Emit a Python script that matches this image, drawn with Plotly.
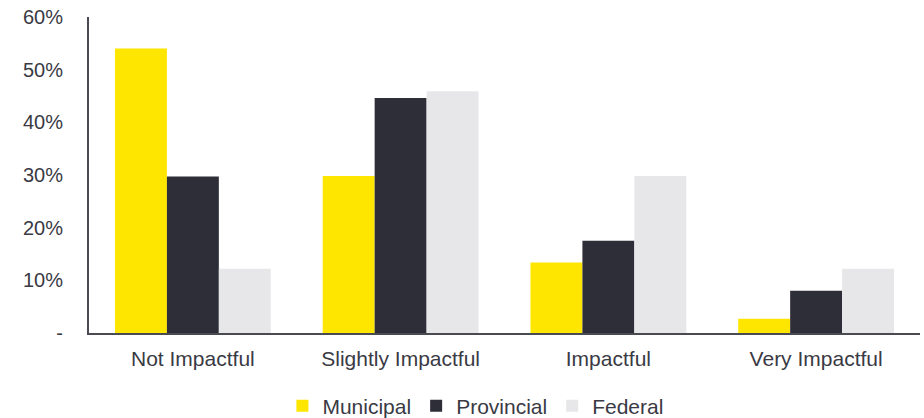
import plotly.graph_objects as go

categories = ["Not Impactful", "Slightly Impactful", "Impactful", "Very Impactful"]
municipal = [54.0, 29.8, 13.4, 2.7]
provincial = [29.7, 44.6, 17.5, 8.0]
federal = [12.2, 45.9, 29.8, 12.2]

tick_vals = [0, 10, 20, 30, 40, 50, 60]
tick_text = ["-", "10%", "20%", "30%", "40%", "50%", "60%"]

series = [
    ("Municipal", municipal, "#FFE600"),
    ("Provincial", provincial, "#2E2E38"),
    ("Federal", federal, "#E7E7EA"),
]

fig = go.Figure()
for name, vals, color in series:
    fig.add_trace(go.Bar(
        name=name, x=categories, y=vals,
        marker=dict(color=color, line=dict(width=0)),
    ))

font_family = "Liberation Sans, Arial, sans-serif"
fig.update_layout(
    width=924, height=418,
    margin=dict(l=89, r=4, t=17, b=85, autoexpand=False),
    paper_bgcolor="white", plot_bgcolor="white",
    barmode="group", bargap=0.25, bargroupgap=0,
    font=dict(family=font_family, size=20, color="#3a3a44"),
    showlegend=True,
    legend=dict(
        orientation="h", x=0.465, xanchor="center", y=-0.231, yanchor="middle",
        font=dict(size=21, color="#3a3a44"), itemwidth=30,
        traceorder="normal",
    ),
    xaxis=dict(
        showline=True, linecolor="#4a4a52", linewidth=2,
        showgrid=False, ticks="", tickfont=dict(size=21),
        ticklabelstandoff=6,
    ),
    yaxis=dict(
        range=[0, 60], tickvals=tick_vals, ticktext=tick_text,
        showline=True, linecolor="#4a4a52", linewidth=2,
        showgrid=False, zeroline=False, ticks="",
        tickfont=dict(size=20), ticklabelstandoff=20,
    ),
)

fig.write_html("out.html")
